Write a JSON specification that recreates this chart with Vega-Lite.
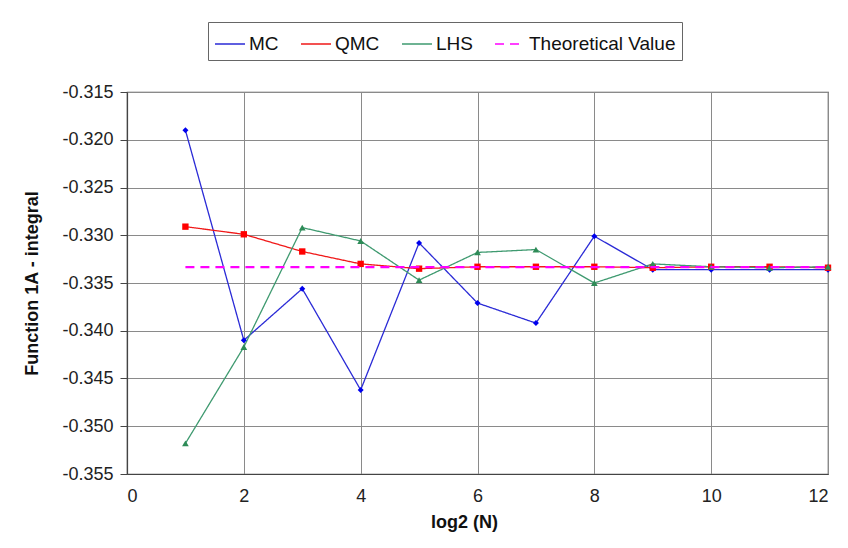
{
  "$schema": "https://vega.github.io/schema/vega-lite/v6.json",
  "width": 701,
  "height": 382,
  "autosize": {"type": "none"},
  "padding": {"left": 127, "top": 92, "right": 20, "bottom": 74},
  "background": "white",
  "config": {
    "font": "Liberation Sans",
    "view": {"stroke": "#555555", "strokeWidth": 1.2},
    "axis": {
      "labelFont": "Liberation Sans",
      "titleFont": "Liberation Sans",
      "labelFontSize": 18,
      "titleFontSize": 18,
      "labelColor": "#222222",
      "titleColor": "#111111",
      "gridColor": "#8a8a8a",
      "gridWidth": 1,
      "gridOpacity": 1,
      "domainColor": "#444444",
      "domainWidth": 1.2,
      "tickColor": "#444444"
    }
  },
  "data": {
    "values": [
      {"series": "MC", "x": 1, "y": -0.3190},
      {"series": "MC", "x": 2, "y": -0.3410},
      {"series": "MC", "x": 3, "y": -0.3356},
      {"series": "MC", "x": 4, "y": -0.3462},
      {"series": "MC", "x": 5, "y": -0.3308},
      {"series": "MC", "x": 6, "y": -0.3371},
      {"series": "MC", "x": 7, "y": -0.3392},
      {"series": "MC", "x": 8, "y": -0.3301},
      {"series": "MC", "x": 9, "y": -0.3336},
      {"series": "MC", "x": 10, "y": -0.3336},
      {"series": "MC", "x": 11, "y": -0.3336},
      {"series": "MC", "x": 12, "y": -0.3336},
      {"series": "QMC", "x": 1, "y": -0.3291},
      {"series": "QMC", "x": 2, "y": -0.3299},
      {"series": "QMC", "x": 3, "y": -0.3317},
      {"series": "QMC", "x": 4, "y": -0.3330},
      {"series": "QMC", "x": 5, "y": -0.3335},
      {"series": "QMC", "x": 6, "y": -0.3333},
      {"series": "QMC", "x": 7, "y": -0.3333},
      {"series": "QMC", "x": 8, "y": -0.3333},
      {"series": "QMC", "x": 9, "y": -0.3334},
      {"series": "QMC", "x": 10, "y": -0.3333},
      {"series": "QMC", "x": 11, "y": -0.3333},
      {"series": "QMC", "x": 12, "y": -0.3334},
      {"series": "LHS", "x": 1, "y": -0.3518},
      {"series": "LHS", "x": 2, "y": -0.3417},
      {"series": "LHS", "x": 3, "y": -0.3292},
      {"series": "LHS", "x": 4, "y": -0.3306},
      {"series": "LHS", "x": 5, "y": -0.3347},
      {"series": "LHS", "x": 6, "y": -0.3318},
      {"series": "LHS", "x": 7, "y": -0.3315},
      {"series": "LHS", "x": 8, "y": -0.3350},
      {"series": "LHS", "x": 9, "y": -0.3330},
      {"series": "LHS", "x": 10, "y": -0.3333},
      {"series": "LHS", "x": 11, "y": -0.3334},
      {"series": "LHS", "x": 12, "y": -0.3333},
      {"series": "Theoretical Value", "x": 1, "y": -0.33333},
      {"series": "Theoretical Value", "x": 12, "y": -0.33333}
    ]
  },
  "encoding": {
    "x": {
      "field": "x", "type": "quantitative",
      "scale": {"domain": [0, 12], "nice": false, "zero": false},
      "axis": {"title": "log2 (N)", "values": [0, 2, 4, 6, 8, 10, 12], "ticks": false, "labelPadding": 13, "titlePadding": 8, "titleX": 337, "titleAlign": "center", "titleFontWeight": "bold", "grid": true}
    },
    "y": {
      "field": "y", "type": "quantitative",
      "scale": {"domain": [-0.355, -0.315], "nice": false, "zero": false},
      "axis": {"title": "Function 1A - integral", "values": [-0.355, -0.35, -0.345, -0.34, -0.335, -0.33, -0.325, -0.32, -0.315], "format": ".3f", "labelExpr": "replace(datum.label, '\u2212', '-')", "tickSize": 7, "labelPadding": 7, "titlePadding": 20, "titleFontWeight": "bold", "grid": true}
    }
  },
  "layer": [
    {
      "transform": [{"filter": "datum.series !== 'Theoretical Value'"}],
      "mark": {"type": "line", "strokeWidth": 1.3},
      "encoding": {
        "color": {
          "field": "series", "type": "nominal",
          "scale": {"domain": ["MC", "QMC", "LHS", "Theoretical Value"], "range": ["#2b2bd6", "#f01818", "#3f9a70", "#ff00ff"]},
          "legend": {
            "title": null,
            "orient": "none",
            "legendX": 81,
            "legendY": -70,
            "direction": "horizontal",
            "symbolType": "stroke",
            "symbolSize": 900,
            "symbolStrokeWidth": 1.6,
            "labelFontSize": 19,
            "labelFont": "Liberation Sans",
            "labelColor": "#111111",
            "labelOffset": 3,
            "columnPadding": 18,
            "padding": 6,
            "strokeColor": "#666666",
            "fillColor": "white"
          }
        },
        "strokeDash": {
          "field": "series", "type": "nominal",
          "scale": {"domain": ["MC", "QMC", "LHS", "Theoretical Value"], "range": [[1, 0], [1, 0], [1, 0], [9, 6]]},
          "legend": {
            "title": null,
            "orient": "none",
            "legendX": 81,
            "legendY": -70,
            "direction": "horizontal",
            "symbolType": "stroke",
            "symbolSize": 900,
            "symbolStrokeWidth": 1.6,
            "labelFontSize": 19,
            "labelFont": "Liberation Sans",
            "labelColor": "#111111",
            "labelOffset": 3,
            "columnPadding": 18,
            "padding": 6,
            "strokeColor": "#666666",
            "fillColor": "white"
          }
        }
      }
    },
    {
      "transform": [{"filter": "datum.series !== 'Theoretical Value'"}],
      "mark": {"type": "point", "filled": true, "opacity": 1},
      "encoding": {
        "fill": {
          "field": "series", "type": "nominal",
          "scale": {"domain": ["MC", "QMC", "LHS"], "range": ["#0000ee", "#ff0000", "#2e8b57"]},
          "legend": null
        },
        "shape": {
          "field": "series", "type": "nominal",
          "scale": {"domain": ["MC", "QMC", "LHS"], "range": ["diamond", "square", "triangle-up"]},
          "legend": null
        },
        "size": {
          "field": "series", "type": "nominal",
          "scale": {"domain": ["MC", "QMC", "LHS"], "range": [36, 45, 32]},
          "legend": null
        }
      }
    },
    {
      "transform": [{"filter": "datum.series === 'Theoretical Value'"}],
      "mark": {"type": "line", "strokeWidth": 2.2},
      "encoding": {
        "color": {"field": "series", "type": "nominal"},
        "strokeDash": {"field": "series", "type": "nominal"}
      }
    }
  ]
}
